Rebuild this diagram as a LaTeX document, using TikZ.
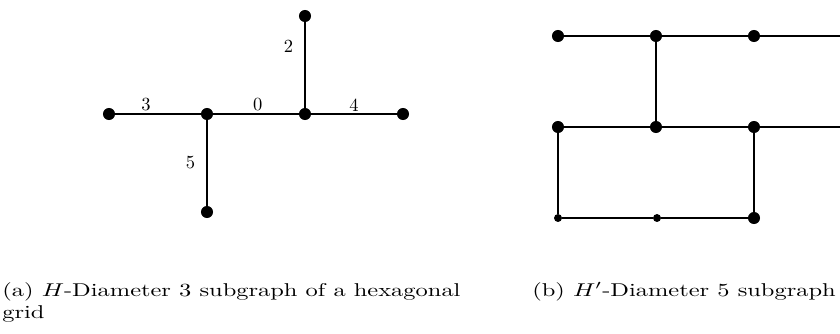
\documentclass[tikz,border=0pt]{standalone}
\usepackage{amsmath, amssymb}
\usepackage{xcolor}
\usepackage{tikz}
\usetikzlibrary{arrows.meta, positioning, calc}

\begin{document}
\begin{tikzpicture}[x=0.54pt, y=-0.54pt,
    vtx/.style={circle, fill=black, inner sep=0pt, minimum size=6.5pt},
    svtx/.style={circle, fill=black, inner sep=0pt, minimum size=4.3pt},
    edge/.style={line width=0.9pt},
    tedge/.style={line width=1.6pt},
    lab/.style={inner sep=1pt},
    capt/.style={anchor=base west, inner sep=0pt}
  ]
  \useasboundingbox (0,0) rectangle (840,333);
  % (a) subgraph of the hexagonal grid
  \node[vtx] (a3) at (109,114) {};
  \node[vtx] (a0) at (207,114) {};
  \node[vtx] (a1) at (305,114) {};
  \node[vtx] (a4) at (403,114) {};
  \node[vtx] (a2) at (305,16) {};
  \node[vtx] (a5) at (207,212) {};
  \draw[edge] (a3) -- node[lab, above, pos=0.36] {3} (a0);
  \draw[edge] (a0) -- node[lab, above, pos=0.52] {0} (a1);
  \draw[edge] (a1) -- node[lab, above, pos=0.5] {4} (a4);
  \draw[edge] (a2) -- node[lab, left=5pt, pos=0.28] {2} (a1);
  \draw[edge] (a0) -- node[lab, left=5pt, pos=0.49] {5} (a5);
  % (b) subgraph H'
  \node[vtx] (b11) at (558,36) {};
  \node[vtx] (b12) at (656,36) {};
  \node[vtx] (b13) at (754,36) {};
  \coordinate (e1) at (840,36);
  \node[vtx] (b21) at (558,127) {};
  \node[vtx] (b22) at (656,127) {};
  \node[vtx] (b23) at (754,127) {};
  \coordinate (e2) at (840,127);
  \node[svtx] (b31) at (558,218) {};
  \node[svtx] (b32) at (657,218) {};
  \node[vtx] (b33) at (754,218) {};
  \draw[tedge] (b11) -- (b12) -- (b13) -- (e1);
  \draw[tedge] (b21) -- (b22) -- (b23) -- (e2);
  \draw[tedge] (b12) -- (b22);
  \draw[tedge] (b23) -- (b33);
  \draw[edge] (b21) -- (b31) -- (b32) -- (b33);
  % captions
  \node[capt] (capa) at (2,296) {\scalebox{1.32}[1]{\begin{tabular}[t]{@{}l@{}}(a) $H$-Diameter 3 subgraph of a hexagonal\\grid\end{tabular}}};
  \node[capt] (capb) at (532,296) {\scalebox{1.32}[1]{(b) $H'$-Diameter 5 subgraph}};
\end{tikzpicture}
\end{document}
